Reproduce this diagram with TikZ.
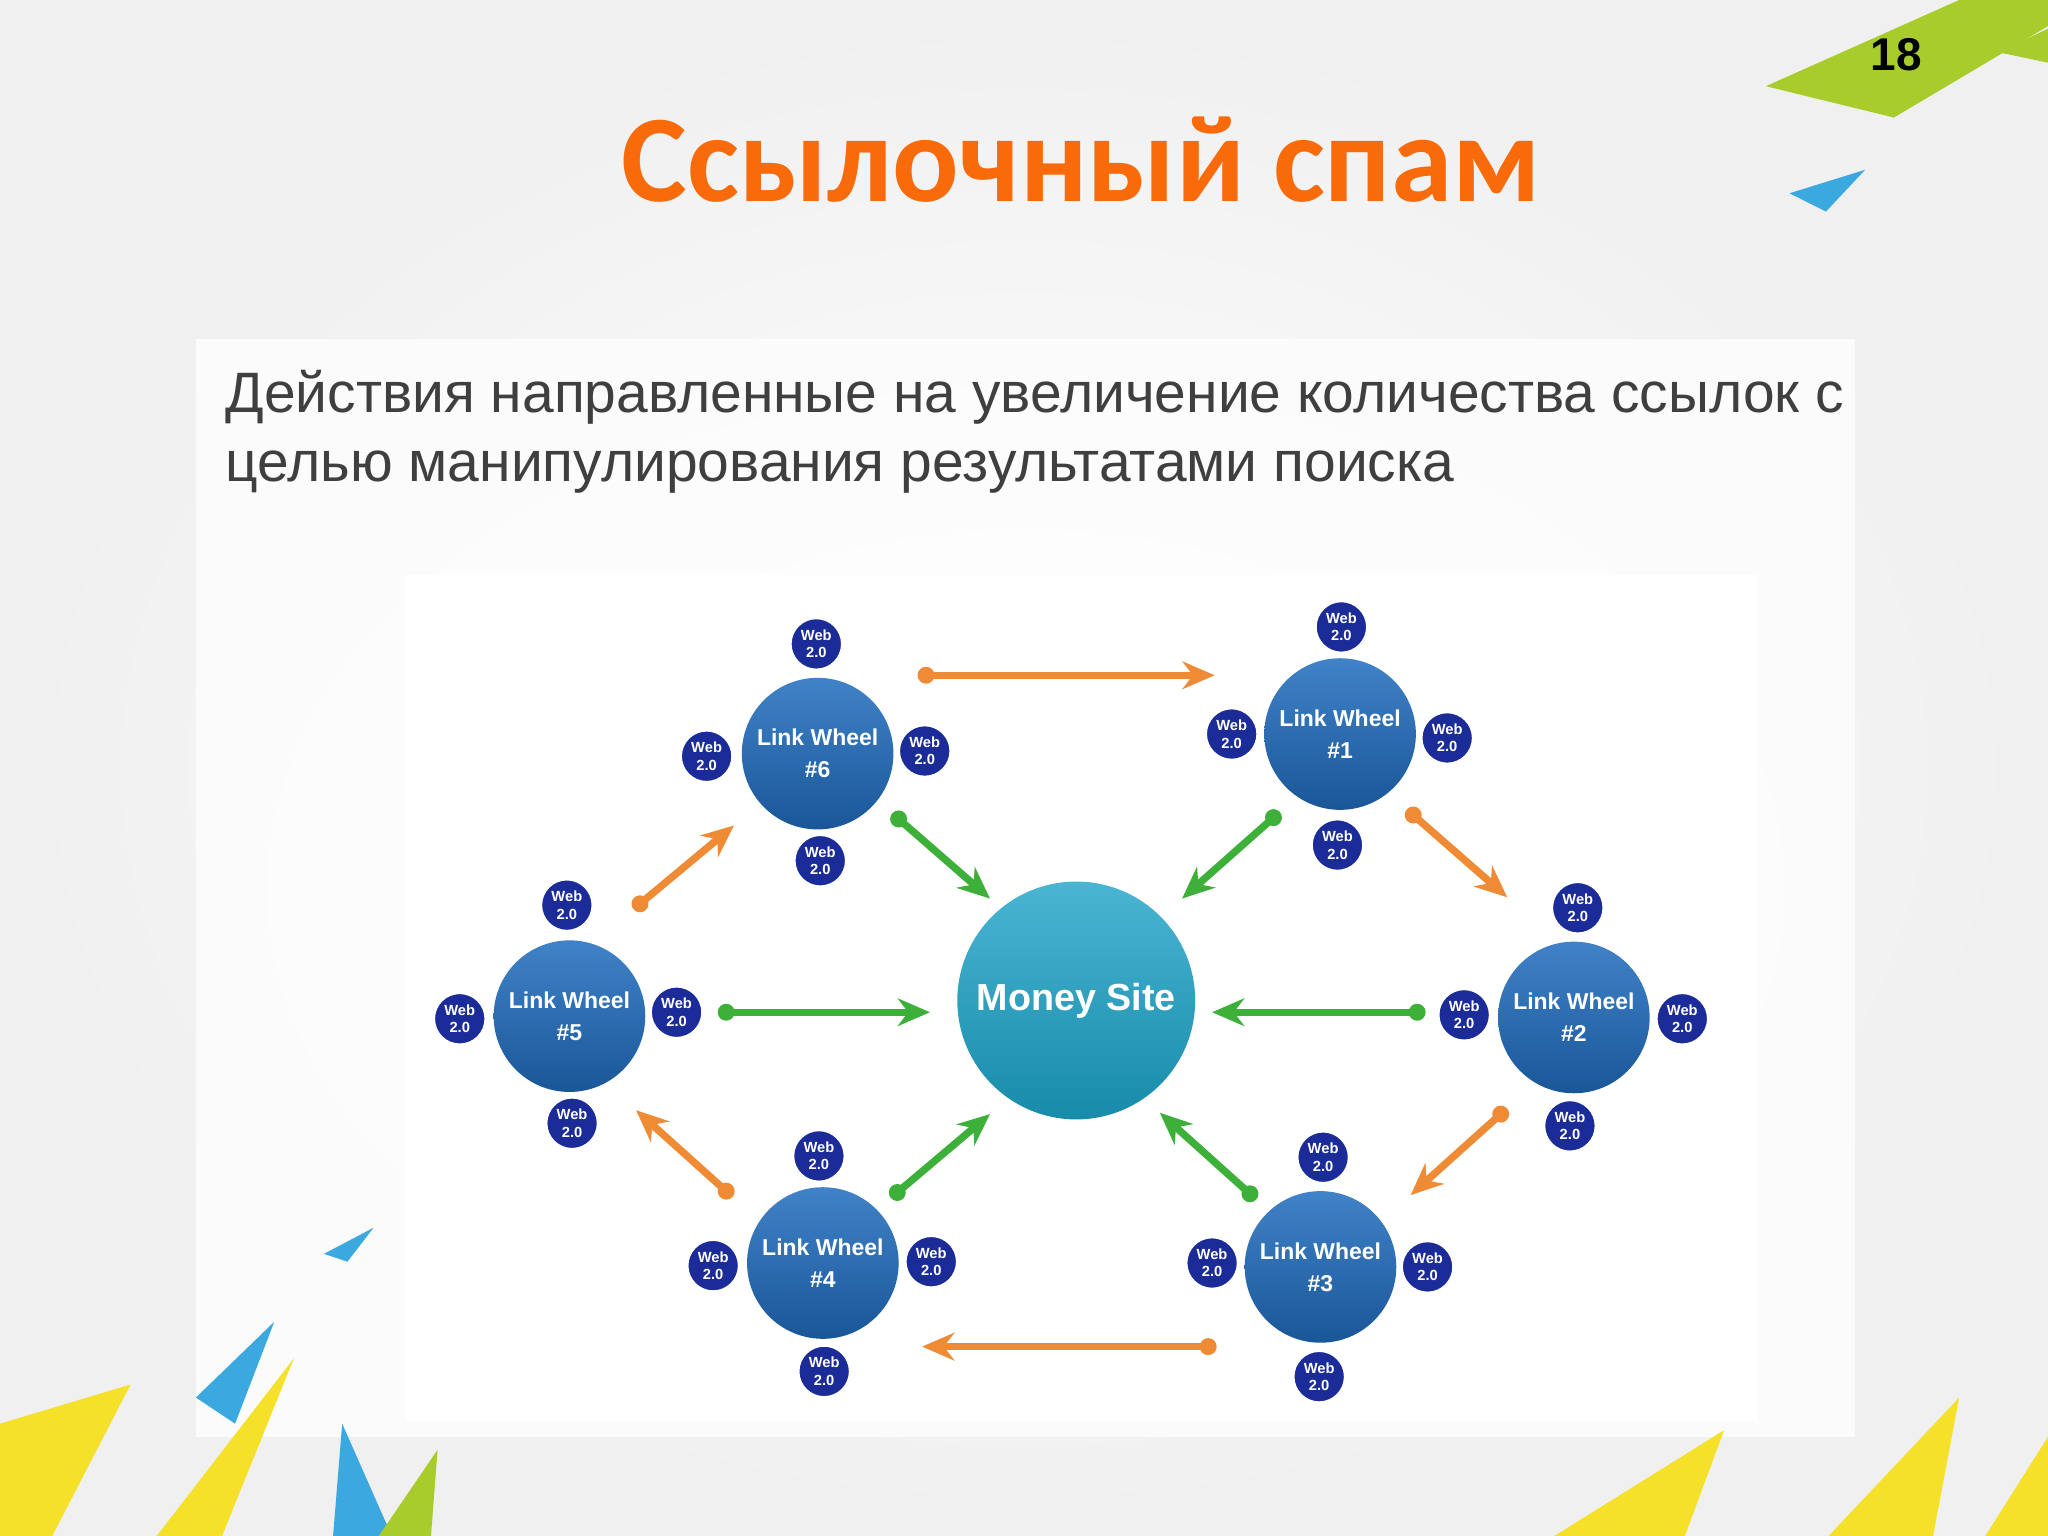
\documentclass[tikz,border=0pt]{standalone}
\usepackage{fontspec}
\setmainfont{Liberation Sans}
\newfontfamily\titlefont{Carlito}
\definecolor{ttl}{HTML}{F96A0B}
\definecolor{body}{HTML}{3F3F3F}
\definecolor{wheel}{HTML}{1F6CBE}
\definecolor{webc}{HTML}{1B2B98}
\definecolor{money}{HTML}{1CA3C8}
\definecolor{org}{HTML}{EF8A35}
\definecolor{grn}{HTML}{3DB03A}
\definecolor{ylw}{HTML}{F5E12A}
\definecolor{lgr}{HTML}{A8CC2C}
\definecolor{sky}{HTML}{3BA9E0}
\usetikzlibrary{arrows.meta}
\tikzset{
 lw/.style={circle,minimum size=1.16cm,inner sep=0,top color=wheel!85!white,bottom color=wheel!80!black,text=white,font=\fontsize{5}{7}\selectfont\bfseries,align=center},
 web/.style={circle,minimum size=0.42cm,inner sep=0,fill=webc,draw=white,line width=1.2pt,text=white,font=\fontsize{3.2}{3.8}\selectfont\bfseries,align=center},
 oa/.style={draw=org,line width=1.6pt,-{Stealth[length=7pt,width=6pt]}},
 ga/.style={draw=grn,line width=1.6pt,-{Stealth[length=7pt,width=6pt]}},
}
\begin{document}
\begin{tikzpicture}[x=0.01cm,y=-0.01cm]
\useasboundingbox (0,0) rectangle (1568,1176);
\shade[inner color=white,outer color=gray!12] (0,0) rectangle (1568,1176);
\shade[inner color=white,outer color=gray!3] (150,260) rectangle (1420,1100);
\fill[white] (310,440) rectangle (1345,1088);
% decorations
\fill[lgr] (1352,66) -- (1500,0) -- (1568,0) -- (1568,20) -- (1450,90) -- cycle;
\fill[lgr] (1530,40) -- (1568,22) -- (1568,48) -- cycle;
\fill[sky] (1370,148) -- (1428,130) -- (1398,162) -- cycle;
\fill[sky] (248,960) -- (286,940) -- (266,966) -- cycle;
\fill[ylw] (0,1090) -- (100,1060) -- (40,1176) -- (0,1176) -- cycle;
\fill[ylw] (120,1176) -- (225,1040) -- (170,1176) -- cycle;
\fill[sky] (150,1070) -- (210,1012) -- (180,1090) -- cycle;
\fill[sky] (255,1176) -- (262,1090) -- (300,1176) -- cycle;
\fill[lgr] (290,1176) -- (335,1110) -- (330,1176) -- cycle;
\fill[ylw] (1190,1176) -- (1320,1095) -- (1290,1176) -- cycle;
\fill[ylw] (1400,1176) -- (1500,1070) -- (1480,1176) -- cycle;
\fill[ylw] (1520,1176) -- (1568,1100) -- (1568,1176) -- cycle;
% texts
\node (num) at (1452,42) {\fontsize{10}{12}\selectfont\bfseries 18};
\node[text=ttl] (title) at (828,122) {\titlefont\fontsize{27}{30}\selectfont\bfseries Ссылочный спам};
\node[text=body,anchor=base west,inner sep=0] (l1) at (172,316) {\fontsize{12.4}{14}\selectfont Действия направленные на увеличение количества ссылок с};
\node[text=body,anchor=base west,inner sep=0] (l2) at (172,369) {\fontsize{12.4}{14}\selectfont целью манипулирования результатами поиска};
% diagram
\node[circle,minimum size=1.82cm,inner sep=0,top color=money!80!white,bottom color=money!85!black,text=white,font=\fontsize{8.2}{10}\selectfont\bfseries] (ms) at (824,766) {Money Site};
\foreach \n/\x/\y in {6/626/577,1/1026/562,2/1205/779,3/1011/970,4/630/967,5/436/778}
  \node[lw] (w\n) at (\x,\y) {Link Wheel\\\#\n};
\foreach \n/\a/\b/\c/\d/\e/\f/\g/\h in {
 6/625/493/541/579/708/575/628/659,
 1/1027/480/943/562/1108/565/1024/647,
 2/1208/695/1121/777/1288/780/1202/862,
 5/434/693/352/780/518/775/438/860,
 4/627/885/546/969/713/966/631/1050,
 3/1013/886/928/967/1093/970/1010/1054}{
 \node[web] (a\n) at (\a,\b) {Web\\2.0};
 \node[web] (b\n) at (\c,\d) {Web\\2.0};
 \node[web] (c\n) at (\e,\f) {Web\\2.0};
 \node[web] (d\n) at (\g,\h) {Web\\2.0};
}
\foreach \i/\x/\y/\u/\v in {1/709/517/930/517,2/1082/624/1154/687,3/1149/853/1080/915,4/925/1031/706/1031,5/556/912/487/850,6/490/692/562/632}{
 \coordinate (os\i) at (\x,\y); \coordinate (oe\i) at (\u,\v);
 \draw[oa] (os\i) -- (oe\i);
 \fill[org] (os\i) circle (6.5);
}
\foreach \i/\x/\y/\u/\v in {1/688/627/758/688,2/975/626/905/688,3/1085/775/928/775,4/556/775/712/775,5/687/913/758/853,6/957/914/888/852}{
 \coordinate (gs\i) at (\x,\y); \coordinate (ge\i) at (\u,\v);
 \draw[ga] (gs\i) -- (ge\i);
 \fill[grn] (gs\i) circle (6.5);
}
\end{tikzpicture}
\end{document}
